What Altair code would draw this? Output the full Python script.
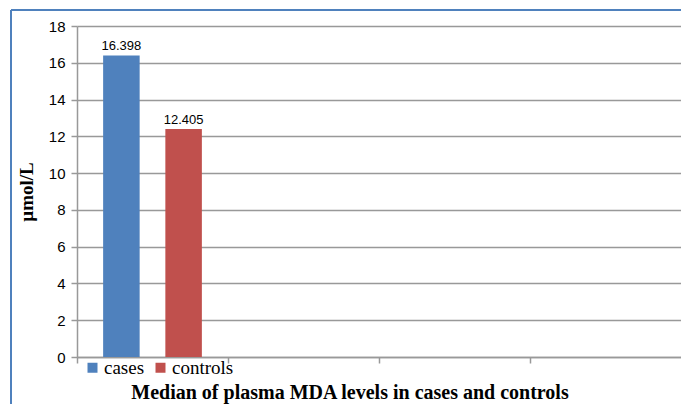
import altair as alt
import pandas as pd

categories = ["g1", "g1"]
series = ["cases", "controls"]
values = [16.398, 12.405]
value_labels = ["16.398", "12.405"]
x_domain = ["g1", "g2", "g3", "g4"]
y_ticks = [0, 2, 4, 6, 8, 10, 12, 14, 16, 18]

df = pd.DataFrame({"cat": categories, "series": series, "value": values, "label": value_labels})

SERIF = "Liberation Serif"
SANS = "Liberation Sans"
LEGEND_FONT = "'Liberation Serif', 'Times New Roman', serif"

x_scale = alt.Scale(domain=x_domain, paddingInner=0, paddingOuter=0)
xo_scale = alt.Scale(domain=series, paddingInner=0.413, paddingOuter=0.42)
y_scale = alt.Scale(domain=[0, 18], nice=False)

x_axis = alt.Axis(title=None, labels=False, bandPosition=0, tickSize=6,
                  tickColor="#999999", domainColor="#999999", domainWidth=1.5,
                  tickWidth=1.5, grid=False)
y_axis = alt.Axis(title="µmol/L", values=y_ticks, labelOverlap=False,
                  titleFont=SERIF, titleFontWeight="bold",
                  titleFontSize=19, titleColor="#000000", titlePadding=12,
                  labelFont=SANS, labelFontSize=15, labelColor="#000000", labelPadding=6,
                  tickSize=6, tickColor="#999999", tickWidth=1.5,
                  domainColor="#999999", domainWidth=1.5,
                  gridColor="#999999", gridWidth=1.5)

x_enc = alt.X("cat:N", scale=x_scale, axis=x_axis)
xo_enc = alt.XOffset("series:N", scale=xo_scale)
y_enc = alt.Y("value:Q", scale=y_scale, axis=y_axis)

bars = alt.Chart(df).mark_bar().encode(
    x=x_enc, xOffset=xo_enc, y=y_enc,
    color=alt.Color("series:N", scale=alt.Scale(domain=series, range=["#4F81BD", "#C0504D"]),
                    legend=alt.Legend(title=None, orient="none", legendX=6, legendY=332,
                                      direction="horizontal", symbolType="square", symbolSize=100,
                                      symbolStrokeWidth=0, labelFont=LEGEND_FONT, labelFontSize=19,
                                      labelColor="#000000", columnPadding=6, labelOffset=2)),
)

text = alt.Chart(df).mark_text(baseline="bottom", dy=-2, font=SANS, fontSize=13, color="#000000").encode(
    x=x_enc, xOffset=xo_enc, y=y_enc, text="label:N",
)

frame_df = pd.DataFrame({"a": [0]})
left_border = alt.Chart(frame_df).mark_rule(stroke="#4F81BD", strokeWidth=2, clip=False).encode(
    x=alt.value(-66), y=alt.value(-16), y2=alt.value(378))
top_border = alt.Chart(frame_df).mark_rule(stroke="#4F81BD", strokeWidth=2, clip=False).encode(
    x=alt.value(-66), x2=alt.value(612), y=alt.value(-16))

chart = alt.layer(left_border, top_border, bars, text).properties(
    width=604, height=331,
    autosize=alt.AutoSizeParams(type="none"),
    padding={"left": 69, "top": 18, "right": 0, "bottom": 47},
    title=alt.TitleParams("Median of plasma MDA levels in cases and controls", orient="bottom",
                          font=SERIF, fontSize=20, fontWeight="bold", color="#000000",
                          anchor="middle", frame="bounds", offset=-22),
).configure_view(stroke=None).configure_legend(labelFont=LEGEND_FONT, labelFontSize=19)

chart.save("out.html", embed_options={"renderer": "svg", "actions": False})
